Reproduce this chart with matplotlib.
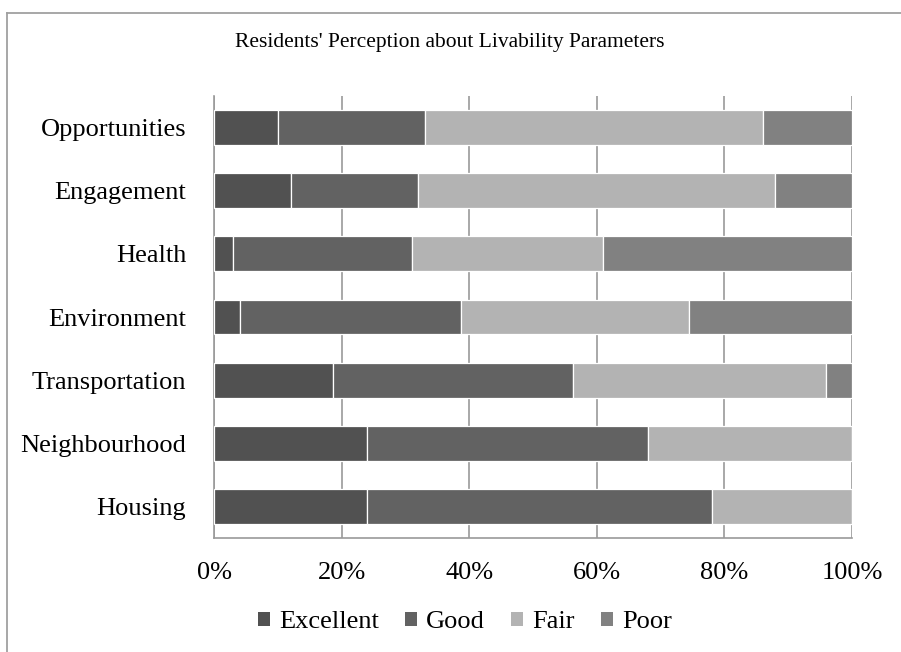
import numpy as np
import matplotlib
matplotlib.use("Agg")
import matplotlib.pyplot as plt
from matplotlib.patches import Patch
from matplotlib.lines import Line2D
from matplotlib.ticker import FuncFormatter

# data (percent of respondents)
categories = ["Opportunities", "Engagement", "Health", "Environment",
              "Transportation", "Neighbourhood", "Housing"]
excellent = [10, 12, 3, 4.1, 18.7, 24, 24]
good = [23, 20, 28, 34.6, 37.6, 44, 54]
fair = [53, 56, 30, 35.8, 39.6, 32, 22]
poor = [14, 12, 39, 25.5, 4.1, 0, 0]
series_names = ["Excellent", "Good", "Fair", "Poor"]
colors = ["#515151", "#626262", "#b3b3b3", "#818181"]

plt.rcParams['font.family'] = ['Liberation Serif', 'DejaVu Serif']

fig = plt.figure(figsize=(9.01, 6.52), dpi=100)
ax = fig.add_axes([214/901, 1-538/652, 638/901, 442/652])

y = np.arange(len(categories))
left = np.zeros(len(categories))
for vals, name, c in zip([excellent, good, fair, poor], series_names, colors):
  vals = np.array(vals, dtype=float)
  ax.barh(y, vals, left=left, height=0.55, color=c, edgecolor='white', linewidth=0.9, label=name, zorder=3)
  left += vals

ax.set_ylim(len(categories)-0.5, -0.5)
ax.set_xlim(0, 100)
ax.set_yticks(y)
ax.set_yticklabels(categories, fontsize=19)
ax.set_xticks(np.arange(0, 101, 20))
ax.xaxis.set_major_formatter(FuncFormatter(lambda v, p: "%d%%" % v))
ax.tick_params(axis='x', labelsize=19, length=0, pad=17)
ax.tick_params(axis='y', length=0, pad=20)
ax.grid(axis='x', color='#9a9a9a', lw=1.2, zorder=0)
ax.set_axisbelow(True)
for s in ['top', 'right']:
  ax.spines[s].set_visible(False)
for s in ['left', 'bottom']:
  ax.spines[s].set_color('#9a9a9a')
  ax.spines[s].set_linewidth(1.2)

fig.text(450/901, 1-42/652, "Residents' Perception about Livability Parameters", fontsize=15.5, ha='center', va='center')

handles = [Patch(facecolor=c, edgecolor='none') for c in colors]
fig.legend(handles, series_names, loc='center', bbox_to_anchor=(465/901, 1-622/652), ncol=4, frameon=False,
           fontsize=19, handlelength=0.45, handleheight=0.45, handletextpad=0.35, columnspacing=1.0)

# outer chart border (top and left edges visible)
fig.add_artist(Line2D([7/901, 1], [1-12.5/652, 1-12.5/652], transform=fig.transFigure, color='#a0a0a0', lw=1.3))
fig.add_artist(Line2D([7/901, 7/901], [0, 1-12.5/652], transform=fig.transFigure, color='#a0a0a0', lw=1.3))

fig.savefig("out.png", dpi=100)
